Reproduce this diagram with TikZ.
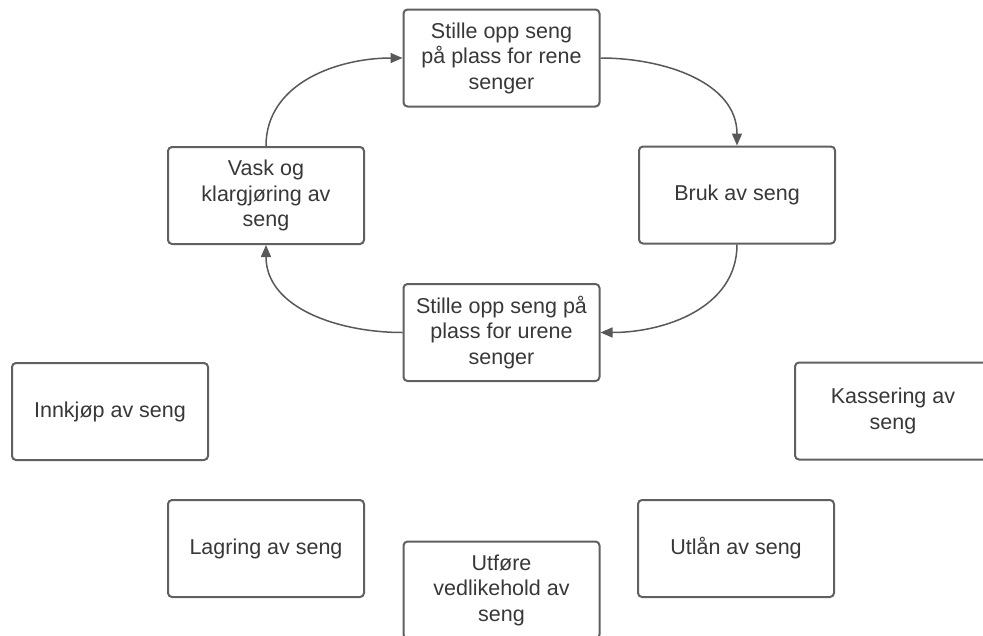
\documentclass[tikz,border=0pt]{standalone}
\usepackage{fontspec}
\setmainfont{Liberation Sans}
\usepackage{tikz}
\usetikzlibrary{arrows.meta}

\definecolor{kant}{RGB}{96,96,96}
\definecolor{tekst}{RGB}{56,56,56}
\definecolor{pilfarge}{RGB}{88,88,88}

\tikzset{
	boks/.style={draw=kant, line width=2pt, rounded corners=4pt, fill=white,
		minimum width=196pt, minimum height=97pt, align=center, text=tekst,
		font=\fontsize{21.5}{25.5}\selectfont, inner sep=2pt},
	pil/.style={draw=pilfarge, line width=1.5pt, -{Triangle[length=12pt,width=10pt]}}
}

\begin{document}
\begin{tikzpicture}[x=1pt,y=-1pt]
	\useasboundingbox (0,0) rectangle (983,635);
	\clip (0,0) rectangle (983,635);
	% kretslopet
	\node[boks] (rene) at (501.5,58) {Stille opp seng\\på plass for rene\\senger};
	\node[boks] (bruk) at (737,195) {Bruk av seng};
	\node[boks] (urene) at (501.5,332.5) {Stille opp seng på\\plass for urene\\senger};
	\node[boks] (vask) at (266,195.5) {Vask og\\klargjøring av\\seng};
	% resten
	\node[boks] (innkjop) at (110,411.5) {Innkjøp av seng};
	\node[boks] (kassering) at (893,411) {Kassering av\\seng};
	\node[boks] (lagring) at (266,548.5) {Lagring av seng};
	\node[boks] (utforing) at (501.5,590) {Utføre\\vedlikehold av\\seng};
	\node[boks] (utlan) at (736,548.5) {Utlån av seng};
	% piler
	\draw[pil] (vask.north) to[out=90,in=180] (rene.west);
	\draw[pil] (rene.east) to[out=0,in=90] (bruk.north);
	\draw[pil] (bruk.south) to[out=-90,in=0] (urene.east);
	\draw[pil] (urene.west) to[out=180,in=-90] (vask.south);
\end{tikzpicture}
\end{document}
